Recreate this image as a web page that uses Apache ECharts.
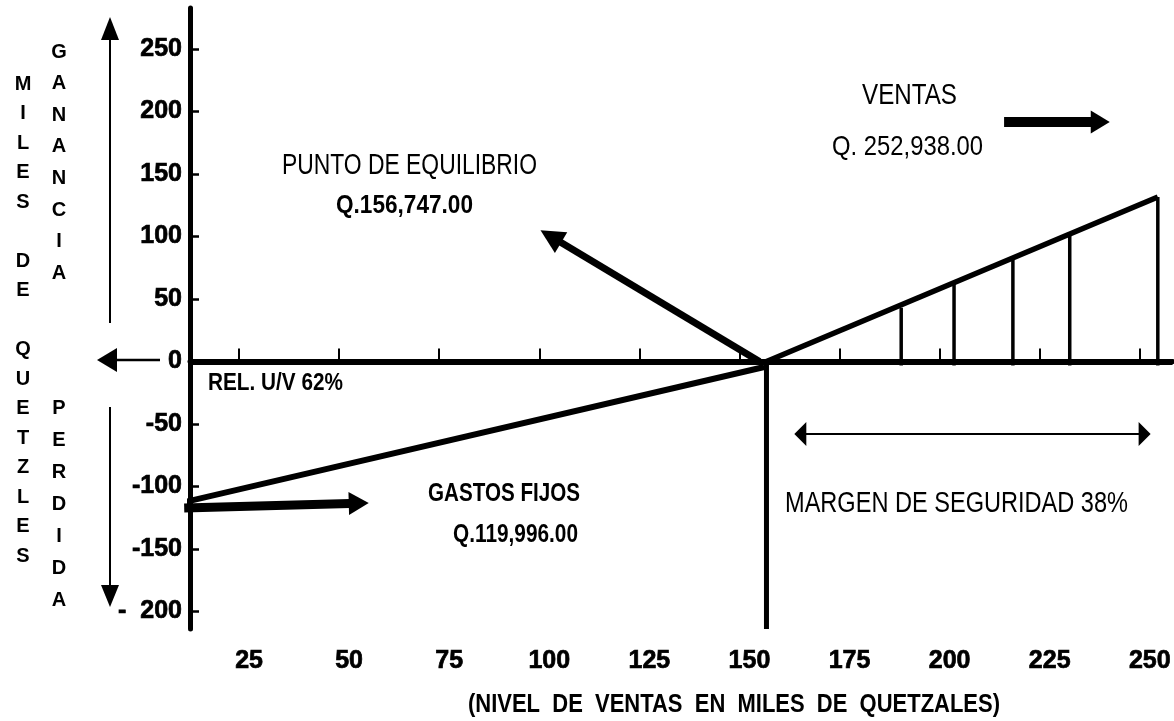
<!DOCTYPE html>
<html><head><meta charset="utf-8">
<script src="https://cdn.jsdelivr.net/npm/echarts@6.0.0/dist/echarts.min.js"></script>
<style>html,body{margin:0;padding:0;background:#fff}#c{width:1174px;height:721px}</style>
</head><body><div id="c"></div>
<script>
// ---------- data (thousands of quetzales) ----------
const xTicks = [25, 50, 75, 100, 125, 150, 175, 200, 225, 250];
const yTicks = [-200, -150, -100, -50, 0, 50, 100, 150, 200, 250];
const xRange = [12.75, 258.2];
const yRange = [-214, 282.8];
const breakEven = 156.747;
const costLine = [[11.5, -112.4], [156.2, -4.4]];
const salesLine = [[156.747, 0], [254.5, 131.6]];
const marginX = [190.4, 203.6, 218.3, 232.5, 254.5];
const marginY = [43, 62, 83, 103, 131.6];
// annotation arrows (data coordinates): from -> to
const arrowFrom = [[155, 0], [11.3, -117.2], [216.1, 191.6], [163.7, -58]];
const arrowTo   = [[100.3, 105], [57.4, -113.2], [242.5, 191.6], [252.7, -58]];

// ---------- styles ----------
const arrowStyles = [
  {w: 7, hl: 24, hw: 24, dbl: false},
  {w: 9, hl: 20, hw: 23, dbl: false},
  {w: 10, hl: 19, hw: 23, dbl: false},
  {w: 2, hl: 12, hw: 24, dbl: true}
];

function hasFont(name) {
  const c = document.createElement('canvas').getContext('2d');
  const s = 'MWmwiIl0123456789';
  c.font = '40px monospace'; const a = c.measureText(s).width;
  c.font = '40px "' + name + '", monospace'; const b = c.measureText(s).width;
  return a !== b;
}
const narrow = hasFont('Liberation Sans Narrow') ? 'Liberation Sans Narrow' : (hasFont('Arial Narrow') ? 'Arial Narrow' : null);
const labelFont = narrow || 'Liberation Sans';
const labelSize = narrow ? 27 : 25;
const BASE = 'Liberation Sans';

const mctx = document.createElement('canvas').getContext('2d');
function measure(t, size, bold) {
  mctx.font = (bold ? 'bold ' : '') + size + 'px "' + BASE + '"';
  return mctx.measureText(t).width;
}
// annotation texts: left edge, right edge, center y
const notes = [
  {t: 'PUNTO DE EQUILIBRIO', l: 282, r: 537, y: 166, s: 29, b: false},
  {t: 'Q.156,747.00', l: 336, r: 473, y: 206, s: 26, b: true},
  {t: 'VENTAS', l: 862, r: 957, y: 96, s: 29, b: false},
  {t: 'Q. 252,938.00', l: 832, r: 983, y: 147, s: 28, b: false},
  {t: 'REL. U/V 62%', l: 208, r: 343, y: 384, s: 23, b: true},
  {t: 'GASTOS FIJOS', l: 428, r: 580, y: 494, s: 25, b: true},
  {t: 'Q.119,996.00', l: 453, r: 578, y: 535, s: 26, b: true},
  {t: 'MARGEN DE SEGURIDAD 38%', l: 785, r: 1128, y: 504, s: 29, b: false},
  {t: '(NIVEL  DE  VENTAS  EN  MILES  DE  QUETZALES)', l: 468, r: 1000, y: 705, s: 26, b: true}
];

const graphics = [];
notes.forEach(n => {
  const w = measure(n.t, n.s, n.b);
  graphics.push({type: 'text', x: n.l, y: n.y, scaleX: (n.r - n.l) / w, silent: true,
    style: {text: n.t, fontSize: n.s, fontFamily: BASE, fontWeight: n.b ? 'bold' : 'normal',
      fill: '#000', textAlign: 'left', textVerticalAlign: 'middle'}});
});
// vertical letter columns
function column(str, x, y0, step) {
  str.split('').forEach((ch, i) => {
    if (ch === ' ') return;
    graphics.push({type: 'text', x: x, y: y0 + i * step, silent: true,
      style: {text: ch, fontSize: 20, fontFamily: BASE, fontWeight: 'bold', fill: '#000',
        textAlign: 'center', textVerticalAlign: 'middle'}});
  });
}
column('MILES DE QUETZLES', 23, 84, 29.5);
column('GANANCIA', 59, 52, 31.6);
column('PERDIDA', 59, 408, 32);
// side arrows (outside the plot)
function sideArrow(x1, y1, x2, y2, w, hl, hw) {
  const dx = x2 - x1, dy = y2 - y1, L = Math.hypot(dx, dy), ux = dx / L, uy = dy / L, nx = -uy, ny = ux;
  const bx = x2 - ux * hl, by = y2 - uy * hl;
  graphics.push({type: 'line', silent: true, shape: {x1: x1, y1: y1, x2: bx + ux, y2: by + uy}, style: {stroke: '#000', lineWidth: w}});
  graphics.push({type: 'polygon', silent: true, shape: {points: [[x2, y2], [bx + nx * hw / 2, by + ny * hw / 2], [bx - nx * hw / 2, by - ny * hw / 2]]}, style: {fill: '#000'}});
}
sideArrow(110, 323, 110, 17, 2, 23, 18);
sideArrow(110, 407, 110, 607, 2, 22, 18);
sideArrow(160, 360, 97, 360, 2.5, 20, 24);

function head(p, u, hl, hw) {
  const bx = p[0] - u[0] * hl, by = p[1] - u[1] * hl, nx = -u[1], ny = u[0];
  return {type: 'polygon', shape: {points: [p, [bx + nx * hw / 2, by + ny * hw / 2], [bx - nx * hw / 2, by - ny * hw / 2]]}, style: {fill: '#000'}};
}

const chart = echarts.init(document.getElementById('c'), null, {renderer: 'canvas'});
chart.setOption({
  animation: false,
  backgroundColor: '#fff',
  grid: {left: 190, right: 0, top: 8, bottom: 92, containLabel: false},
  xAxis: {
    type: 'value', min: xRange[0], max: xRange[1],
    axisLine: {lineStyle: {color: '#000', width: 5}},
    axisTick: {inside: true, length: 13, customValues: xTicks, lineStyle: {color: '#000', width: 2}},
    axisLabel: {customValues: xTicks, color: '#000', fontWeight: 'bold', fontFamily: labelFont, fontSize: labelSize, margin: 20, padding: [0, 0, 0, 20],
      textBorderColor: '#000', textBorderWidth: 0.7},
    splitLine: {show: false}
  },
  yAxis: {
    type: 'value', min: yRange[0], max: yRange[1],
    axisLine: {show: true, onZero: false, lineStyle: {color: '#000', width: 5}},
    axisTick: {show: true, inside: true, length: 9, customValues: yTicks, lineStyle: {color: '#000', width: 2.5}},
    axisLabel: {customValues: yTicks, color: '#000', fontWeight: 'bold', fontFamily: labelFont, fontSize: labelSize, margin: 8, padding: [6, 0, 0, 0],
      textBorderColor: '#000', textBorderWidth: 0.7,
      formatter: v => (v === -200 ? '-  200' : String(v))},
    splitLine: {show: false}
  },
  series: [
    {type: 'line', data: costLine, symbol: 'none', clip: false, lineStyle: {color: '#000', width: 6}, silent: true, z: 3},
    {type: 'line', data: salesLine, symbol: 'none', clip: false, lineStyle: {color: '#000', width: 5.5}, silent: true, z: 3,
      markLine: {silent: true, symbol: ['none', 'none'], label: {show: false},
        lineStyle: {color: '#000', width: 6, type: 'solid'}, data: [{yAxis: 0}]}},
    {type: 'line', data: [[breakEven, 0], [breakEven, yRange[0]]], symbol: 'none', lineStyle: {color: '#000', width: 5}, silent: true, z: 3},
    {type: 'custom', silent: true, clip: false, z: 4,
      data: marginX.map((x, i) => [x, marginY[i]]),
      renderItem: (params, api) => {
        const p0 = api.coord([api.value(0), 0]);
        const p1 = api.coord([api.value(0), api.value(1)]);
        return {type: 'line', shape: {x1: p0[0], y1: p0[1] + 4, x2: p1[0], y2: p1[1]}, style: {stroke: '#000', lineWidth: 3.5}};
      }},
    {type: 'custom', silent: true, clip: false, z: 5,
      data: arrowFrom.map((f, i) => [f[0], f[1], arrowTo[i][0], arrowTo[i][1]]),
      encode: {x: [0, 2], y: [1, 3]},
      renderItem: (params, api) => {
        const st = arrowStyles[params.dataIndex];
        const p1 = api.coord([api.value(0), api.value(1)]);
        const p2 = api.coord([api.value(2), api.value(3)]);
        const dx = p2[0] - p1[0], dy = p2[1] - p1[1], L = Math.hypot(dx, dy);
        const u = [dx / L, dy / L];
        const e = [p2[0] - u[0] * (st.hl - 1), p2[1] - u[1] * (st.hl - 1)];
        const s = st.dbl ? [p1[0] + u[0] * (st.hl - 1), p1[1] + u[1] * (st.hl - 1)] : p1;
        const ch = [
          {type: 'line', shape: {x1: s[0], y1: s[1], x2: e[0], y2: e[1]}, style: {stroke: '#000', lineWidth: st.w}},
          head(p2, u, st.hl, st.hw)
        ];
        if (st.dbl) ch.push(head(p1, [-u[0], -u[1]], st.hl, st.hw));
        return {type: 'group', children: ch};
      }}
  ],
  graphic: graphics
});
</script>
</body></html>
